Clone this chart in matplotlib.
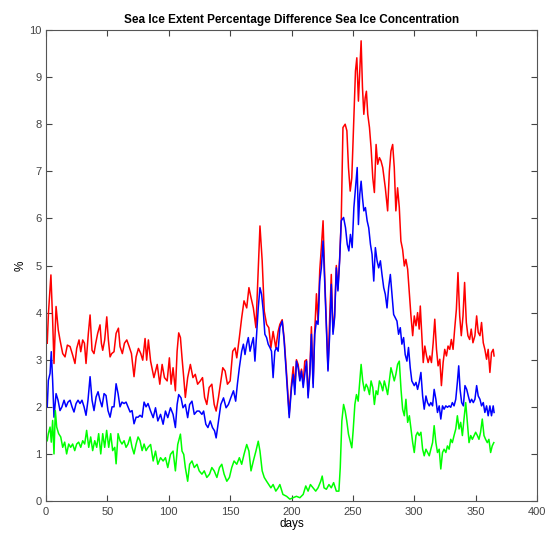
import matplotlib
matplotlib.use("Agg")
import matplotlib.pyplot as plt

plt.rcParams['font.family'] = ['Liberation Sans', 'DejaVu Sans']

# red series (days, %)
red_days = [1, 2, 4, 5.4, 6.5, 8.2, 10, 11.4, 13.6, 15.5, 17.4, 19.6, 21.7, 23.6, 25, 26.9, 28.3, 29.9,
            31.3, 32.6, 34.5, 35.9, 37.5, 39.1, 40.5, 42.1, 44, 45.1, 46.2, 47.8, 49.5, 50.8, 52.2, 53.5,
            55.4, 57.1, 59, 60.3, 62.2, 63.9, 65.8, 67.7, 69.6, 71.7, 73.4, 75.3, 77.2, 78.8, 80.7, 82, 83.4,
            85.2, 87.9, 90.6, 92.7, 94.6, 96.5, 98.7, 100.5, 101.9, 103.5, 105.4, 106.8, 108.1, 109.5, 110.8,
            112.2, 113.5, 115.4, 117.6, 119.7, 121.6, 123.5, 125.7, 127.5, 129.2, 131, 132.9, 135.1, 137,
            138.6, 140.5, 142.4, 144, 145.9, 147.8, 150, 152.1, 154, 155.4, 157.5, 159.4, 161.3, 163.5,
            165.3, 167, 168.9, 171, 172.4, 174.3, 176.1, 177.8, 179.7, 181.5, 183.2, 185, 187.2, 189.1,
            190.5, 192.4, 194, 196, 198.1, 200, 201.4, 202.7, 204, 205.4, 206.8, 208.1, 209.5, 210.8, 212.2,
            213.5, 214.9, 216.2, 217.6, 218.9, 220.3, 221.6, 223, 224.3, 225.7, 227, 228.4, 229.7, 231.1,
            232.4, 233.8, 235.1, 236.5, 237.8, 239.2, 240.5, 241.9, 243.7, 245.1, 246.4, 247.8, 249.1, 250.5,
            252.1, 253.2, 254.5, 255.6, 256.7, 257.8, 258.9, 260, 261, 262.1, 263.5, 264.8, 266.2, 267.5,
            268.9, 270.2, 271.6, 272.9, 274.3, 276.4, 278.3, 279.7, 281, 282.4, 283.7, 285, 286.4, 287.8,
            289.1, 290.5, 291.9, 293.2, 294.6, 296, 297.3, 298.7, 300, 301.4, 302.7, 304, 304.9, 306.2,
            307.3, 308.6, 310, 311.3, 312.7, 314, 315.4, 316.7, 318.1, 319.4, 320.8, 322.1, 323.5, 324.8,
            326.2, 327.5, 328.9, 330.2, 331.6, 332.9, 334.3, 335.6, 337, 338.3, 339.7, 341, 342.4, 343.7,
            345.1, 346.4, 347.8, 349.4, 350.8, 352.1, 353.5, 354.8, 356.2, 357.5, 358.9, 360.2, 361.6,
            362.9, 364.3, 365]
red_vals = [3.35, 3.99, 4.80, 3.84, 2.92, 4.13, 3.63, 3.42, 3.13, 3.06, 3.31, 3.28, 3.10, 2.92, 3.24, 3.42, 3.17, 3.42,
            3.35, 2.92, 3.56, 3.95, 3.20, 3.13, 3.35, 3.56, 3.74, 3.35, 3.20, 3.42, 3.91, 3.42, 3.06, 3.13,
            3.17, 3.56, 3.67, 3.28, 3.13, 3.35, 3.42, 3.28, 3.13, 2.64, 3.06, 3.24, 3.13, 2.99, 3.45, 2.99, 3.42,
            2.97, 2.62, 2.90, 2.48, 2.90, 2.62, 2.55, 3.04, 2.48, 2.83, 2.34, 3.18, 3.57, 3.47, 3.04,
            2.62, 2.20, 2.62, 2.90, 2.62, 2.69, 2.48, 2.55, 2.62, 2.20, 2.05, 2.41, 2.48, 2.05,
            1.91, 2.20, 2.55, 2.83, 2.76, 2.48, 2.55, 3.18, 3.25, 3.04, 3.47, 3.89, 4.25, 4.10,
            4.53, 4.32, 4.10, 3.68, 4.60, 5.84, 5.10, 4.03, 3.75, 3.68, 3.25, 3.60, 3.25, 3.60,
            3.75, 3.85, 3.45, 2.70, 1.85, 2.50, 2.85, 2.40, 3.00, 2.90, 2.60, 2.80, 2.50, 2.97, 3.00,
            2.25, 2.75, 3.70, 2.50, 3.60, 4.40, 3.80, 4.90, 5.38, 5.95, 4.80, 3.75, 2.80, 3.90,
            4.81, 3.60, 3.95, 5.00, 4.50, 5.15, 5.95, 7.93, 8.00, 7.86, 7.08, 6.58, 6.86, 7.93,
            9.13, 9.41, 8.49, 9.13, 9.77, 8.78, 8.21, 8.56, 8.70, 8.21, 7.93, 7.50, 6.86, 6.55,
            7.57, 7.15, 7.29, 7.22, 7.08, 6.65, 6.16, 7.00, 7.43, 7.57, 7.08, 6.16, 6.65, 6.23,
            5.52, 5.34, 4.99, 5.13, 4.92, 4.42, 3.93, 3.51, 3.93, 3.72, 4.00, 3.65, 4.14, 3.51,
            2.94, 3.29, 3.08, 2.94, 3.08, 2.94, 3.36, 3.86, 3.22, 2.87, 3.01, 2.45, 2.94, 3.22,
            3.08, 3.29, 3.22, 3.43, 3.22, 3.65, 4.07, 4.85, 3.93, 3.51, 3.93, 4.64, 3.79, 3.51,
            3.43, 3.65, 3.36, 3.51, 3.93, 3.58, 3.51, 3.79, 3.36, 3.22, 3.01, 3.22, 2.73,
            3.15, 3.22, 3.08]

# blue series
blue_days = [1, 1.9, 3.3, 4.3, 5.4, 6.5, 8.2, 9.8, 11.4, 13, 14.7, 16.3, 17.9, 19.6, 21.2, 22.8, 24.5, 26.1,
             27.7, 29.3, 31, 32.6, 34.2, 35.9, 37.5, 39.1, 40.8, 42.4, 44, 45.6, 47.3, 48.9, 50.5, 52.2, 53.8,
             55.4, 57.1, 58.7, 60.3, 61.9, 63.6, 65.2, 66.8, 68.5, 70.1, 71.7, 73.4, 75, 76.6, 78.3, 79.9, 81.5,
             83.1, 85.2, 87.3, 89.2, 91.1, 93.3, 95.4, 97.3, 99.2, 101.4, 103.5, 105.4, 106.8, 108.1, 110,
             111.6, 113.5, 115.4, 117, 118.9, 120.8, 123, 124.8, 127, 128.4, 130.2, 131.9, 133.8, 135.6,
             137.3, 138.6, 140.5, 142.4, 144.6, 146.7, 148.6, 150.5, 152.7, 154.5, 155.9, 157.5, 159.4,
             160.8, 162.1, 163.5, 164.8, 166.2, 167.5, 168.9, 170.2, 171.6, 172.9, 174.3, 175.6, 177,
             178.3, 179.7, 181, 182.4, 183.7, 185, 186.4, 187.8, 189.1, 190.5, 192.4, 194, 196, 198.1, 200,
             201.4, 202.7, 204, 205.4, 206.8, 208.1, 209.5, 210.8, 212.2, 213.5, 214.9, 216.2, 217.6, 218.9,
             220.3, 221.6, 223, 224.3, 225.7, 227, 228.4, 229.7, 231.1, 232.4, 233.8, 235.1, 236.5, 237.8,
             239.2, 240.5, 242.4, 244, 245.4, 246.7, 248, 249.4, 250.8, 252.1, 253.5, 254.5, 255.6, 256.7,
             257.8, 258.9, 260.2, 261.6, 262.9, 264.3, 265.6, 267, 268.3, 269.7, 271, 272.4, 273.7, 275.1,
             276.4, 277.8, 279.1, 280.5, 281.8, 283.2, 284.5, 285.9, 287.2, 288.6, 289.9, 291.3, 292.6, 294,
             295.3, 296.7, 298, 300, 301.4, 302.7, 304, 305.4, 306.8, 308.1, 309.5, 310.8, 312.2, 313.5,
             314.9, 316.2, 317.6, 318.9, 320.3, 321.6, 323, 324.3, 325.7, 327, 328.4, 329.7, 331, 332.4,
             333.8, 335.1, 336.2, 337.3, 338.6, 340, 341.3, 342.7, 344, 345.4, 346.7, 348.1, 349.4, 350.8,
             352.1, 353.5, 354.8, 356.2, 357.5, 358.9, 360.2, 361.6, 362.9, 364.3, 365]
blue_vals = [2.00, 2.56, 2.71, 3.17, 2.56, 1.78, 2.28, 2.14, 1.92, 2.00, 2.14, 2.00, 2.10, 2.14, 2.00, 1.89, 2.07, 2.14,
             2.07, 2.14, 2.00, 1.82, 2.14, 2.64, 2.14, 1.92, 2.21, 2.32, 2.14, 2.00, 2.28, 2.24, 1.92, 1.78, 2.00,
             2.00, 2.49, 2.28, 2.00, 2.10, 2.07, 2.10, 2.00, 1.89, 1.92, 1.64, 1.78, 1.78, 1.82, 1.78, 2.10, 2.00,
             2.07, 1.91, 1.77, 1.98, 1.70, 1.84, 1.63, 1.91, 1.77, 1.98, 1.84, 1.56, 2.05, 2.26, 2.19,
             1.98, 2.05, 1.77, 2.05, 2.12, 1.84, 1.91, 1.91, 1.84, 1.91, 1.63, 1.56, 1.70, 1.56,
             1.49, 1.34, 1.70, 2.05, 2.19, 1.98, 2.05, 2.19, 2.34, 2.12, 2.48, 2.83, 3.18,
             3.33, 3.11, 3.33, 3.47, 3.18, 3.33, 3.47, 2.97, 3.54, 4.10, 4.53, 4.39, 4.03,
             3.54, 3.47, 3.33, 3.26, 3.18, 2.62, 3.18, 3.26, 3.18, 3.68, 3.82, 3.40, 2.62, 1.77, 2.41,
             2.69, 2.26, 2.97, 2.83, 2.55, 2.76, 2.41, 2.69, 2.97, 2.19, 2.69, 3.54, 2.41, 3.54,
             3.82, 3.75, 4.67, 4.95, 5.52, 4.67, 3.68, 2.76, 3.54, 4.60, 3.54, 3.89, 4.95, 4.46,
             5.10, 5.95, 6.02, 5.80, 5.45, 5.31, 5.66, 5.38, 6.23, 6.65, 7.08, 5.87, 6.51, 6.79,
             6.44, 6.16, 6.23, 5.95, 5.80, 5.45, 5.24, 4.67, 5.38, 5.10, 4.95, 5.10, 4.81, 4.53,
             4.39, 4.10, 4.53, 4.81, 4.39, 3.96, 3.89, 3.82, 3.54, 3.68, 3.33, 3.47, 3.11, 2.97,
             3.26, 2.83, 2.55, 2.45, 2.52, 2.37, 2.52, 2.73, 2.23, 1.95, 2.23, 2.09, 2.02, 2.09,
             2.02, 2.37, 2.16, 1.88, 2.02, 1.74, 2.02, 1.95, 2.02, 1.99, 2.02, 1.99, 2.09, 2.02,
             2.16, 2.52, 2.87, 2.37, 2.09, 2.02, 2.45, 2.37, 2.23, 2.09, 2.16, 2.09, 2.16, 2.45,
             2.23, 2.16, 2.02, 2.09, 1.88, 2.02, 1.81, 2.02, 1.81, 2.02, 1.88]

# green series
green_days = [1, 1.9, 3.3, 4.3, 5.4, 6.5, 7.6, 8.7, 10.3, 12, 13.6, 15.2, 16.8, 18.5, 20.1, 21.7, 23.4, 25,
              26.6, 28.3, 29.9, 31.5, 33.1, 34.8, 36.4, 38, 39.7, 41.3, 42.9, 44.6, 46.2, 47.8, 49.4, 51.1,
              52.7, 54.3, 56, 57.1, 58.7, 60.3, 61.9, 63.6, 65.2, 66.8, 68.5, 70.1, 71.7, 73.4, 75, 76.6,
              78.3, 79.9, 81.5, 83.1, 85.2, 87.3, 89.2, 91.1, 93.3, 95.4, 97.3, 99.2, 101.4, 103.5, 105.4,
              107.3, 109.5, 110.8, 112.2, 113.5, 115.4, 117, 118.9, 120.8, 123, 124.8, 127, 128.9, 131,
              133.2, 135.1, 137, 139.2, 141.3, 143.2, 145.1, 147.3, 149.4, 151.3, 153.2, 155.4, 157.5,
              159.4, 161.3, 163.5, 165.3, 167, 168.9, 171, 172.9, 174.3, 176.1, 177.8, 179.7, 181.5,
              183.2, 185, 187.2, 189.1, 190.5, 193, 196, 198.6, 201.4, 204, 206.8, 209.5, 211.6, 213.5,
              215.4, 217.6, 219.7, 221.6, 223.8, 225, 226.5, 228.4, 230.5, 232.4, 234.3, 236.5, 238.6,
              239.7, 241, 242.4, 243.7, 245, 246.4, 247.8, 249.1, 250.2, 251.6, 252.9, 254.3, 255.4,
              256.7, 258, 259.4, 260.8, 262.1, 263.5, 264.8, 266.2, 267.5, 268.9, 270.2, 271.6, 272.9,
              274.3, 275.6, 277, 278.3, 279.7, 281, 282.4, 283.7, 285, 286.4, 287.8, 289.2, 290.5,
              291.9, 293.2, 294.6, 296, 297.3, 298.7, 300, 301.4, 302.7, 304, 305.4, 306.8, 308.1, 309.5,
              310.8, 312.2, 313.5, 314.9, 316.2, 317.6, 318.9, 320.3, 321.6, 323, 324.3, 325.7, 327,
              328.4, 329.7, 331, 332.4, 333.8, 335.1, 336.5, 337.8, 339.2, 340.5, 341.9, 343.2, 344.6,
              346, 347.3, 348.7, 350, 351.4, 352.7, 354, 355.4, 356.8, 358.1, 359.5, 360.8, 362.2, 363.5,
              364.8]
green_vals = [1.28, 1.43, 1.57, 1.25, 1.71, 1.00, 1.92, 1.57, 1.43, 1.36, 1.14, 1.25, 1.00, 1.21, 1.14, 1.21, 1.07, 1.21,
              1.25, 1.14, 1.28, 1.21, 1.50, 1.14, 1.36, 1.07, 1.28, 1.14, 1.43, 1.00, 1.43, 1.14, 1.50, 1.14,
              1.43, 1.07, 1.14, 0.79, 1.43, 1.28, 1.21, 1.28, 1.14, 1.21, 1.36, 1.14, 1.00, 1.21, 1.36, 1.28,
              1.07, 1.21, 1.07, 1.14, 1.20, 0.85, 1.06, 0.78, 0.92, 0.85, 0.92, 0.71, 0.99, 1.06, 0.64,
              1.20, 1.42, 1.06, 0.99, 0.71, 0.42, 0.78, 0.85, 0.71, 0.78, 0.64, 0.57, 0.64, 0.50,
              0.57, 0.71, 0.64, 0.50, 0.71, 0.78, 0.57, 0.42, 0.50, 0.71, 0.85, 0.78, 0.92,
              0.78, 0.99, 1.20, 1.06, 0.64, 0.85, 1.06, 1.27, 1.06, 0.64, 0.50, 0.42, 0.35,
              0.28, 0.35, 0.21, 0.28, 0.35, 0.14, 0.10, 0.04, 0.07, 0.10, 0.07, 0.14, 0.32, 0.21,
              0.35, 0.28, 0.21, 0.28, 0.42, 0.53, 0.28, 0.25, 0.35, 0.28, 0.39, 0.21, 0.21,
              0.71, 1.70, 2.05, 1.91, 1.70, 1.42, 1.27, 1.13, 1.49, 2.05, 2.26, 2.12, 2.48,
              2.90, 2.55, 2.34, 2.48, 2.41, 2.26, 2.55, 2.41, 2.05, 2.34, 2.26, 2.55, 2.48,
              2.34, 2.55, 2.41, 2.26, 2.55, 2.83, 2.69, 2.55, 2.69, 2.90, 2.97, 2.37, 1.95,
              1.81, 2.16, 1.67, 1.81, 1.53, 1.24, 1.03, 1.39, 1.46, 1.39, 1.46, 1.10, 0.96, 1.10,
              1.03, 0.96, 1.10, 1.24, 1.60, 1.24, 1.03, 1.10, 0.68, 1.03, 1.10, 1.03, 1.17,
              1.10, 1.31, 1.24, 1.39, 1.53, 1.81, 1.53, 1.67, 1.39, 1.74, 2.09, 1.67, 1.24,
              1.39, 1.31, 1.39, 1.46, 1.39, 1.31, 1.46, 1.74, 1.39, 1.31, 1.24, 1.31, 1.03, 1.17,
              1.24]

x_ticks = list(range(0, 401, 50))
y_ticks = list(range(0, 11))

fig = plt.figure(figsize=(5.49, 5.33), dpi=100)
ax = fig.add_axes([0.0838, 0.06, 0.8944, 0.8837])

ax.plot(red_days, red_vals, color=(1, 0, 0), lw=1.1)
ax.plot(blue_days, blue_vals, color=(0, 0, 1), lw=1.1)
ax.plot(green_days, green_vals, color=(0, 1, 0), lw=1.1)

ax.set_xlim(0, 400)
ax.set_ylim(0, 10)
ax.set_xticks(x_ticks)
ax.set_yticks(y_ticks)
ax.tick_params(direction='in', length=4, width=0.8, top=True, right=True,
               labelsize=8, colors='#444444')
ax.tick_params(axis='x', pad=4)
ax.tick_params(axis='y', pad=3)
for s in ax.spines.values():
    s.set_color('#555555')
    s.set_linewidth(0.8)

ax.set_title("Sea Ice Extent Percentage Difference Sea Ice Concentration",
             fontsize=8.5, fontweight='bold', pad=5)
ax.set_xlabel("days", fontsize=8.5, labelpad=1)
ax.set_ylabel("%", fontsize=8.5, labelpad=2)

fig.savefig("out.png", dpi=100)
